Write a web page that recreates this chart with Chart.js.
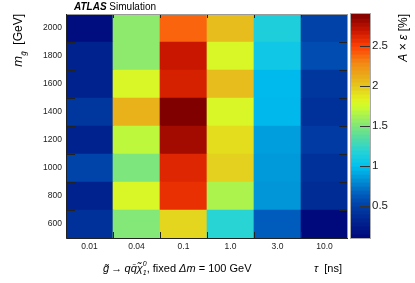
<!DOCTYPE html>
<html><head><meta charset="utf-8">
<script src="https://cdn.jsdelivr.net/npm/chart.js@4/dist/chart.umd.min.js"></script>
<style>html,body{margin:0;padding:0;background:#fff;}</style>
</head><body>
<canvas id="c" width="415" height="283" style="display:block;width:415px;height:283px"></canvas>
<script>
// Categories (x) and masses (y)
const tauLabels = ['0.01', '0.04', '0.1', '1.0', '3.0', '10.0'];
const massPoints = [600, 800, 1000, 1200, 1400, 1600, 1800, 2000];
// A x eps [%] per mass row, one value per tau column
const eff600  = [0.40, 1.52, 1.95, 1.20, 0.65, 0.12];
const eff800  = [0.30, 1.80, 2.58, 1.65, 0.85, 0.37];
const eff1000 = [0.53, 1.50, 2.62, 1.97, 0.86, 0.40];
const eff1200 = [0.30, 1.70, 2.80, 1.92, 0.88, 0.47];
const eff1400 = [0.45, 2.10, 2.90, 1.80, 0.97, 0.40];
const eff1600 = [0.30, 1.80, 2.65, 2.05, 0.98, 0.45];
const eff1800 = [0.30, 1.55, 2.70, 1.80, 1.08, 0.57];
const eff2000 = [0.15, 1.55, 2.40, 2.05, 1.15, 0.52];
const effRows = [eff600, eff800, eff1000, eff1200, eff1400, eff1600, eff1800, eff2000];
const massTicks = [600, 800, 1000, 1200, 1400, 1600, 1800, 2000];
const colorbarTicks = [0.5, 1, 1.5, 2, 2.5];
const zMin = 0.1, zMax = 2.9;

// palette stops (value -> rgb)
const stops = [
  [0.10, [0, 6, 122]], [0.30, [0, 34, 142]], [0.50, [0, 62, 165]], [0.65, [0, 92, 188]],
  [0.85, [0, 150, 216]], [1.00, [0, 192, 240]], [1.20, [40, 212, 212]], [1.40, [95, 222, 150]],
  [1.50, [125, 230, 125]], [1.75, [205, 252, 45]], [1.85, [228, 240, 30]], [2.00, [228, 200, 30]],
  [2.30, [242, 135, 20]], [2.50, [255, 65, 5]], [2.70, [200, 22, 0]], [2.90, [128, 0, 0]]
];
function colorOf(v) {
  if (v <= stops[0][0]) return 'rgb(' + stops[0][1].join(',') + ')';
  for (let i = 1; i < stops.length; i++) {
    if (v <= stops[i][0]) {
      const [a, ca] = stops[i - 1], [b, cb] = stops[i];
      const t = (v - a) / (b - a);
      const c = ca.map((x, k) => Math.round(x + (cb[k] - x) * t));
      return 'rgb(' + c.join(',') + ')';
    }
  }
  return 'rgb(' + stops[stops.length - 1][1].join(',') + ')';
}

const datasets = massPoints.map((m, r) => ({
  label: String(m),
  data: tauLabels.map(() => [m - 100, m + 100]),
  backgroundColor: effRows[r].map(colorOf),
  borderWidth: 0,
  barPercentage: 1.0,
  categoryPercentage: 1.0
}));

const FONT = '"Liberation Sans", Arial, Helvetica, sans-serif';

const deco = {
  id: 'deco',
  afterDatasetsDraw(chart) {
    const ctx = chart.ctx, a = chart.chartArea, xs = chart.scales.x, ys = chart.scales.y;
    ctx.save();
    ctx.strokeStyle = '#222';
    ctx.lineWidth = 1;
    for (let m = 700; m <= 1900; m += 200) {
      const y = Math.round(ys.getPixelForValue(m)) + 0.5;
      ctx.beginPath(); ctx.moveTo(a.left, y); ctx.lineTo(a.left + 9, y); ctx.stroke();
      ctx.beginPath(); ctx.moveTo(a.right, y); ctx.lineTo(a.right - 9, y); ctx.stroke();
    }
    for (let i = 0; i < tauLabels.length - 1; i++) {
      const x = Math.round((xs.getPixelForValue(i) + xs.getPixelForValue(i + 1)) / 2) + 0.5;
      ctx.beginPath(); ctx.moveTo(x, a.bottom); ctx.lineTo(x, a.bottom - 6); ctx.stroke();
      ctx.beginPath(); ctx.moveTo(x, a.top); ctx.lineTo(x, a.top + 4); ctx.stroke();
    }
    ctx.strokeStyle = '#9a9a9a';
    ctx.strokeRect(a.left + 0.5, a.top + 0.5, a.right - a.left - 1, a.bottom - a.top);
    ctx.strokeStyle = '#222';
    ctx.beginPath();
    ctx.moveTo(a.left + 0.5, a.top); ctx.lineTo(a.left + 0.5, a.bottom + 0.5); ctx.lineTo(a.right, a.bottom + 0.5);
    ctx.stroke();
    ctx.restore();
  },
  afterDraw(chart) {
    const ctx = chart.ctx, a = chart.chartArea, cb = chart.scales.cb;
    ctx.save();
    const x0 = a.right + 3, w = 19;
    const n = 56;
    for (let i = 0; i < n; i++) {
      const v0 = zMin + (zMax - zMin) * i / n, v1 = zMin + (zMax - zMin) * (i + 1) / n;
      const yTop = cb.getPixelForValue(v1), yBot = cb.getPixelForValue(v0);
      ctx.fillStyle = colorOf((v0 + v1) / 2);
      ctx.fillRect(x0, yTop, w, yBot - yTop + 0.6);
    }
    ctx.strokeStyle = '#aaaaaa'; ctx.lineWidth = 1;
    ctx.strokeRect(x0 - 0.5, cb.top - 0.5, w + 1, cb.bottom - cb.top + 1);
    ctx.strokeStyle = '#333';
    colorbarTicks.forEach(v => {
      const y = Math.round(cb.getPixelForValue(v)) + 0.5;
      ctx.beginPath(); ctx.moveTo(x0 + w, y); ctx.lineTo(x0 + w - 10, y); ctx.stroke();
    });

    ctx.fillStyle = '#000';
    ctx.textBaseline = 'alphabetic';
    ctx.font = 'italic bold 10px ' + FONT;
    ctx.fillText('ATLAS', 74, 10);
    const wA = ctx.measureText('ATLAS').width;
    ctx.font = '10px ' + FONT;
    ctx.fillText(' Simulation', 74 + wA, 10);

    const drawRuns = (runs) => {
      let x = 0;
      runs.forEach(r => {
        ctx.font = r.font;
        ctx.fillText(r.t, x, r.dy || 0);
        x += ctx.measureText(r.t).width;
      });
      return x;
    };
    const measureRuns = (runs) => runs.reduce((s, r) => { ctx.font = r.font; return s + ctx.measureText(r.t).width; }, 0);

    const yRuns = [
      { t: 'm', font: 'italic 13px ' + FONT },
      { t: 'g\u0303', font: 'italic 8px ' + FONT, dy: 4 },
      { t: '  [GeV]', font: '12px ' + FONT }
    ];
    const yw = measureRuns(yRuns);
    ctx.save();
    ctx.translate(22, 14 + yw);
    ctx.rotate(-Math.PI / 2);
    drawRuns(yRuns);
    ctx.restore();

    const zRuns = [
      { t: 'A', font: 'italic 12px ' + FONT },
      { t: ' \u00d7 ', font: '12px ' + FONT },
      { t: '\u03b5', font: 'italic 12px ' + FONT },
      { t: ' [%]', font: '12px ' + FONT }
    ];
    const zw = measureRuns(zRuns);
    ctx.save();
    ctx.translate(407, 14 + zw);
    ctx.rotate(-Math.PI / 2);
    drawRuns(zRuns);
    ctx.restore();

    const pRuns = [
      { t: 'g\u0303', font: 'italic 11px ' + FONT },
      { t: '\u2009\u2192\u2009', font: '11px ' + FONT },
      { t: 'qq\u0304\u03c7\u0303', font: 'italic 11px ' + FONT },
      { t: '0', font: 'italic 7px ' + FONT, dy: -6 },
      { t: '1', font: 'italic 7px ' + FONT, dy: 3 },
      { t: ', fixed ', font: '11px ' + FONT },
      { t: '\u0394m', font: 'italic 11px ' + FONT },
      { t: ' = 100 GeV', font: '11px ' + FONT }
    ];
    ctx.save();
    ctx.translate(103, 272);
    let x = 0;
    pRuns.forEach((r, i) => {
      ctx.font = r.font;
      ctx.fillText(r.t, x, r.dy || 0);
      if (i !== 3) x += ctx.measureText(r.t).width;
    });
    ctx.restore();

    ctx.save();
    ctx.translate(314, 272);
    drawRuns([{ t: '\u03c4', font: 'italic 11px ' + FONT }, { t: '  [ns]', font: '11px ' + FONT }]);
    ctx.restore();
    ctx.restore();
  }
};

new Chart(document.getElementById('c'), {
  type: 'bar',
  data: { labels: tauLabels, datasets },
  plugins: [deco],
  options: {
    responsive: false,
    animation: false,
    events: [],
    layout: { padding: { top: 14, left: 0, right: 0, bottom: 0 } },
    plugins: { legend: { display: false }, tooltip: { enabled: false }, title: { display: false } },
    scales: {
      x: {
        type: 'category', stacked: true, offset: true,
        grid: { display: false, drawTicks: false }, border: { display: false },
        ticks: { color: '#222', font: { family: FONT, size: 8.5 }, padding: 4, maxRotation: 0 },
        afterFit: s => { s.height = 45; }
      },
      y: {
        type: 'linear', min: 500, max: 2100, stacked: false,
        grid: { display: false, drawTicks: false }, border: { display: false },
        ticks: { color: '#222', font: { family: FONT, size: 8.5 }, padding: 4, callback: v => String(v) },
        afterBuildTicks: s => { s.ticks = massTicks.map(v => ({ value: v })); },
        afterFit: s => { s.width = 66; }
      },
      cb: {
        type: 'linear', position: 'right', min: zMin, max: zMax,
        grid: { display: false, drawTicks: true, tickLength: 22 }, border: { display: false },
        ticks: { color: '#222', font: { family: FONT, size: 11.5 }, padding: 2, callback: v => String(v) },
        afterBuildTicks: s => { s.ticks = colorbarTicks.map(v => ({ value: v })); },
        afterFit: s => { s.width = 67; }
      }
    }
  }
});
</script>
</body></html>
